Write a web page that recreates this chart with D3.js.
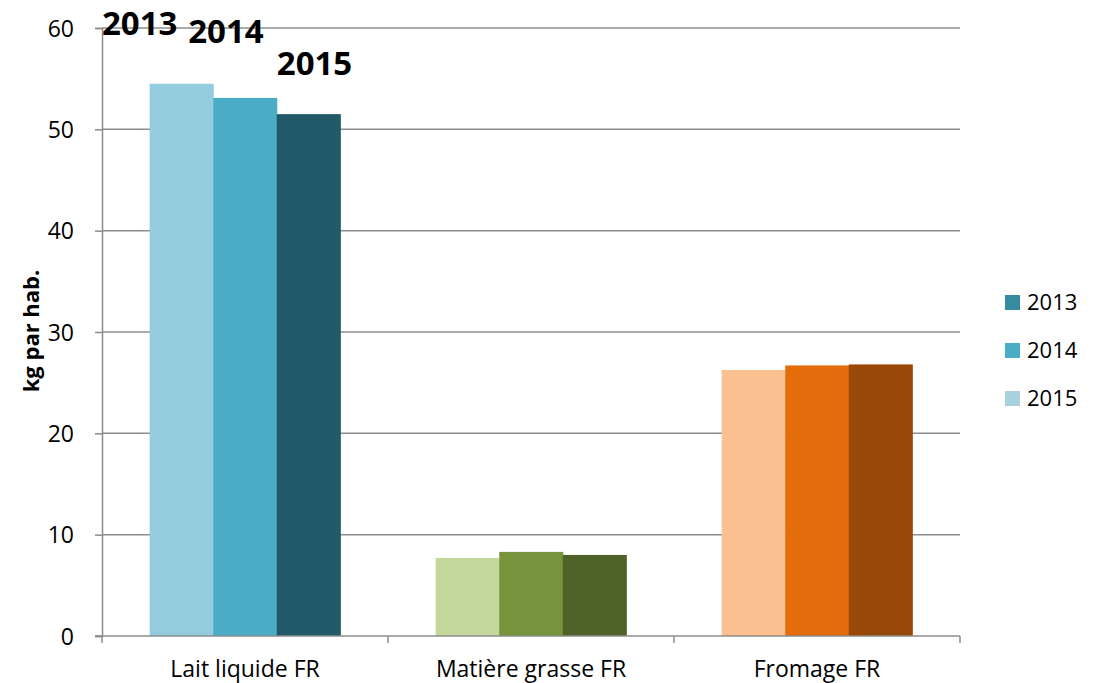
<!DOCTYPE html>
<html>
<head>
<meta charset="utf-8">
<script src="https://cdn.jsdelivr.net/npm/d3@7"></script>
<style>
  body { margin: 0; background: #fff; }
  svg text { font-family: "Open Sans", Lato, sans-serif; }
</style>
</head>
<body>
<div id="chart"></div>
<script>
const categories = ['Lait liquide FR', 'Matière grasse FR', 'Fromage FR']
const years = ['2013', '2014', '2015']
// one value per year, per category
const lait = [54.5, 53.1, 51.5]
const matiere = [7.7, 8.3, 8.0]
const fromage = [26.25, 26.7, 26.8]
const yTicks = [0, 10, 20, 30, 40, 50, 60]

// each bar coloured on its own, like in the sheet
const barColors = [
  ['#93cddd', '#4bacc6', '#215968'],
  ['#c4d79b', '#77933c', '#4f6228'],
  ['#fac090', '#e46c0a', '#984807']
]
const legendColors = ['#378ba1', '#4bacc6', '#a8d0dd']

const values = [lait, matiere, fromage]
const data = categories.map((c, i) => ({cat: c, vals: years.map((yr, j) => ({year: yr, v: values[i][j], color: barColors[i][j]}))}))

const W = 1097, H = 683
const plot = {left: 102, right: 960, top: 28, bottom: 636}
const grey = '#8c8c8c'
const font = '"Open Sans", sans-serif'

const svg = d3.select('#chart').append('svg')
  .attr('width', W).attr('height', H)

const x0 = d3.scaleBand().domain(categories).range([plot.left, plot.right])
const bw = x0.bandwidth()
const x1 = d3.scaleBand().domain(years).range([bw / 6, bw * 5 / 6])
const y = d3.scaleLinear().domain([0, 60]).range([plot.bottom, plot.top])

// gridlines
svg.append('g').selectAll('line').data(yTicks.slice(1)).join('line')
  .attr('x1', plot.left).attr('x2', plot.right)
  .attr('y1', d => y(d)).attr('y2', d => y(d))
  .attr('stroke', grey).attr('stroke-width', 1.5)

// bars
const grp = svg.append('g').selectAll('g').data(data).join('g')
  .attr('transform', d => 'translate(' + x0(d.cat) + ',0)')
grp.selectAll('rect').data(d => d.vals).join('rect')
  .attr('x', d => x1(d.year))
  .attr('width', x1.bandwidth() + 0.5)
  .attr('y', d => y(d.v))
  .attr('height', d => y(0) - y(d.v))
  .attr('fill', d => d.color)

// y axis
const yax = svg.append('g')
  .attr('transform', 'translate(' + plot.left + ',0)')
  .call(d3.axisLeft(y).tickValues(yTicks).tickSize(7).tickPadding(21))
yax.select('.domain').attr('stroke', grey).attr('stroke-width', 1.5)
yax.selectAll('.tick line').attr('stroke', grey).attr('stroke-width', 1.5)
yax.selectAll('.tick text').attr('font-size', 23).attr('fill', '#000')
  .attr('font-family', font).attr('dy', '0.36em')

// x axis
const xax = svg.append('g')
  .attr('transform', 'translate(0,' + plot.bottom + ')')
  .call(d3.axisBottom(x0).tickSize(0).tickPadding(25))
xax.select('.domain').remove()
xax.append('line').attr('x1', plot.left - 7).attr('x2', plot.right)
  .attr('stroke', grey).attr('stroke-width', 1.5)
xax.selectAll('.boundary').data([...categories.map(c => x0(c)), plot.right]).join('line')
  .attr('class', 'boundary')
  .attr('x1', d => d).attr('x2', d => d).attr('y1', 0).attr('y2', 7)
  .attr('stroke', grey).attr('stroke-width', 1.5)
xax.selectAll('.tick text').attr('font-size', 23).attr('fill', '#000')
  .attr('font-family', font)

// y label
svg.append('text')
  .attr('transform', 'translate(39,331) rotate(-90)')
  .attr('text-anchor', 'middle')
  .attr('font-size', 22).attr('font-weight', 'bold')
  .text('kg par hab.')

// year annotations above the milk bars
const annY = [59.3, 58.5, 55.4]
svg.append('g').selectAll('text').data(years).join('text')
  .attr('x', (d, i) => x0(categories[0]) + (i === 0 ? 0 : x1(d)) + (i === 1 ? -25 : 0))
  .attr('y', (d, i) => y(annY[i]))
  .attr('font-size', 33).attr('font-weight', 'bold')
  .text(d => d)

// legend
const leg = svg.append('g').selectAll('g').data(years).join('g')
  .attr('transform', (d, i) => 'translate(1005,' + (295 + i * 48) + ')')
leg.append('rect').attr('width', 15).attr('height', 15)
  .attr('fill', (d, i) => legendColors[i])
leg.append('text').attr('x', 22).attr('y', 15)
  .attr('font-size', 22).text(d => d)
</script>
</body>
</html>
